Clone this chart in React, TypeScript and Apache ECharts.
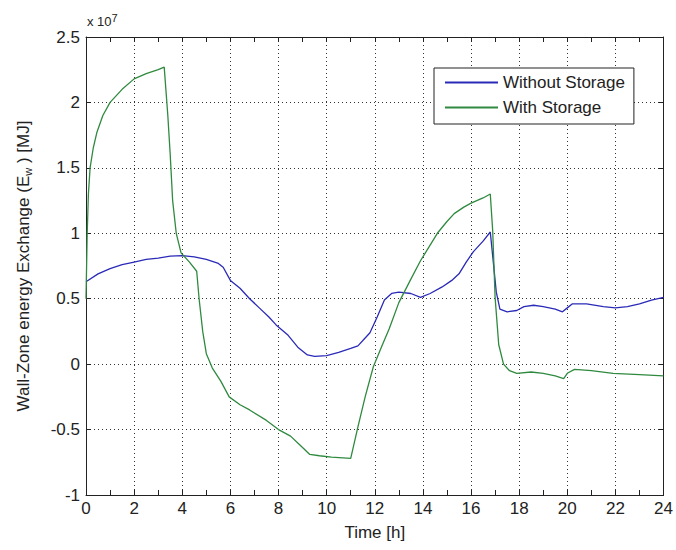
import React, { useEffect, useRef } from "react";
import * as echarts from "echarts";

const timeWithout = [0, 0.5, 1, 1.5, 2, 2.5, 3, 3.5, 4, 4.5, 5, 5.5, 5.7, 6, 6.4, 6.8, 7.2, 7.6, 7.9, 8.4, 8.8, 9.2, 9.5, 10, 10.5, 11, 11.3, 11.6, 11.8, 12.1, 12.4, 12.7, 13, 13.5, 13.9, 14.3, 14.8, 15.2, 15.5, 15.8, 16.1, 16.5, 16.8, 17.05, 17.2, 17.5, 17.9, 18.2, 18.6, 19, 19.5, 19.8, 20.0, 20.2, 20.8, 21.5, 22, 22.5, 23, 23.5, 24];
const valWithout = [0.63, 0.69, 0.73, 0.76, 0.78, 0.8, 0.81, 0.825, 0.83, 0.82, 0.8, 0.77, 0.74, 0.64, 0.58, 0.5, 0.43, 0.36, 0.3, 0.22, 0.13, 0.07, 0.06, 0.065, 0.09, 0.12, 0.14, 0.2, 0.24, 0.36, 0.49, 0.54, 0.55, 0.54, 0.51, 0.54, 0.59, 0.64, 0.69, 0.78, 0.86, 0.94, 1.01, 0.55, 0.42, 0.4, 0.41, 0.44, 0.45, 0.44, 0.42, 0.4, 0.43, 0.46, 0.46, 0.44, 0.43, 0.44, 0.46, 0.49, 0.51];

const timeWith = [0, 0.05, 0.1, 0.17, 0.3, 0.45, 0.7, 1, 1.5, 2, 2.5, 3, 3.25, 3.4, 3.5, 3.6, 3.75, 3.95, 4.3, 4.6, 4.7, 4.85, 5.0, 5.25, 5.6, 5.95, 6.4, 6.8, 7.5, 8, 8.5, 8.9, 9.3, 9.7, 10.2, 11.0, 11.3, 11.6, 11.94, 12.3, 12.6, 13, 13.5, 13.9, 14.3, 14.6, 15, 15.3, 15.7, 16, 16.5, 16.8, 16.9, 17.0, 17.15, 17.35, 17.6, 17.9, 18.5, 19, 19.5, 19.85, 20.0, 20.3, 21, 21.9, 23, 24];
const valWith = [0.5, 1.0, 1.3, 1.5, 1.65, 1.77, 1.9, 2.0, 2.1, 2.18, 2.22, 2.25, 2.27, 1.9, 1.6, 1.25, 1.0, 0.85, 0.78, 0.71, 0.5, 0.25, 0.08, -0.03, -0.13, -0.25, -0.31, -0.35, -0.43, -0.5, -0.55, -0.62, -0.69, -0.7, -0.71, -0.72, -0.48, -0.25, -0.02, 0.14, 0.27, 0.47, 0.65, 0.79, 0.91, 1.0, 1.09, 1.15, 1.2, 1.23, 1.27, 1.3, 1.02, 0.51, 0.15, 0.0, -0.05, -0.07, -0.06, -0.07, -0.09, -0.11, -0.07, -0.04, -0.05, -0.07, -0.08, -0.09];

const seriesNames = ["Without Storage", "With Storage"];
const xTitle = "Time [h]";

const FONT = "'Liberation Sans', Arial, sans-serif";
const AX = "#222";

export default function App() {
  const ref = useRef<HTMLDivElement>(null);
  useEffect(() => {
    if (!ref.current) return;
    const chart = echarts.init(ref.current, null, { renderer: "svg" });
    const axisCommon = {
      type: "value" as const,
      axisLine: { show: true, onZero: false, lineStyle: { color: AX, width: 1 } },
      axisTick: { show: true, inside: true, length: 5, lineStyle: { color: AX } },
      axisLabel: { color: AX, fontSize: 17, fontFamily: FONT },
    };
    chart.setOption({
      animation: false,
      backgroundColor: "#fff",
      grid: { left: 86, right: 10, top: 37, bottom: 55, containLabel: false },
      xAxis: [
        {
          ...axisCommon,
          min: 0,
          max: 24,
          interval: 2,
          position: "bottom",
          name: xTitle,
          nameLocation: "middle",
          nameGap: 29,
          nameTextStyle: { color: AX, fontSize: 17, fontFamily: FONT },
          axisLabel: { ...axisCommon.axisLabel, margin: 5 },
          minorTick: { show: true, splitNumber: 2, length: 5, lineStyle: { color: AX } },
          splitLine: { show: true, lineStyle: { color: "#333", type: [1, 3], width: 1 } },
        },
        {
          ...axisCommon,
          min: 0,
          max: 24,
          interval: 2,
          position: "top",
          axisLabel: { show: false },
          minorTick: { show: true, splitNumber: 2, length: 5, lineStyle: { color: AX } },
          splitLine: { show: false },
        },
      ],
      yAxis: [
        {
          ...axisCommon,
          min: -1,
          max: 2.5,
          interval: 0.5,
          position: "left",
          name: "Wall-Zone energy Exchange (E{sub|w} ) [MJ]",
          nameLocation: "middle",
          nameGap: 53,
          nameTextStyle: {
            color: AX,
            fontSize: 17,
            fontFamily: FONT,
            rich: {
              sub: { fontSize: 11, fontFamily: FONT, color: AX, verticalAlign: "bottom", padding: [8, 0, 0, 0] },
            },
          },
          axisLabel: { ...axisCommon.axisLabel, margin: 6 },
          splitLine: { show: true, lineStyle: { color: "#333", type: [1, 3], width: 1 } },
        },
        {
          ...axisCommon,
          min: -1,
          max: 2.5,
          interval: 0.5,
          position: "right",
          axisLabel: { show: false },
          splitLine: { show: false },
        },
      ],
      legend: {
        orient: "vertical",
        left: 434,
        top: 68,
        padding: [5, 9, 7, 11],
        itemGap: 6,
        itemWidth: 53,
        itemHeight: 2,
        icon: "rect",
        backgroundColor: "#fff",
        borderColor: "#222",
        borderWidth: 1,
        borderRadius: 0,
        textStyle: { color: AX, fontSize: 17, fontFamily: FONT, padding: [0, 0, 0, 0], lineHeight: 19 },
        data: seriesNames,
      },
      graphic: [
        {
          type: "text",
          left: 87,
          top: 12,
          style: {
            text: "x 10{sup|7}",
            fontSize: 13,
            fontFamily: FONT,
            fill: AX,
            rich: {
              sup: { fontSize: 11, fontFamily: FONT, fill: AX, verticalAlign: "top", padding: [0, 0, 8, 0] },
            },
          },
        },
      ],
      series: [
        {
          name: seriesNames[0],
          type: "line",
          showSymbol: false,
          symbol: "none",
          smooth: false,
          color: "#2a2ab8",
          lineStyle: { width: 1.3, color: "#2a2ab8" },
          data: timeWithout.map((t, i) => [t, valWithout[i]]),
          z: 3,
        },
        {
          name: seriesNames[1],
          type: "line",
          showSymbol: false,
          symbol: "none",
          smooth: false,
          color: "#2f8a3f",
          lineStyle: { width: 1.3, color: "#2f8a3f" },
          data: timeWith.map((t, i) => [t, valWith[i]]),
          z: 4,
        },
      ],
    });
    return () => chart.dispose();
  }, []);
  return (
    <div
      ref={ref}
      style={{ position: "fixed", left: 0, top: 0, width: 676, height: 550, background: "#fff" }}
    />
  );
}
